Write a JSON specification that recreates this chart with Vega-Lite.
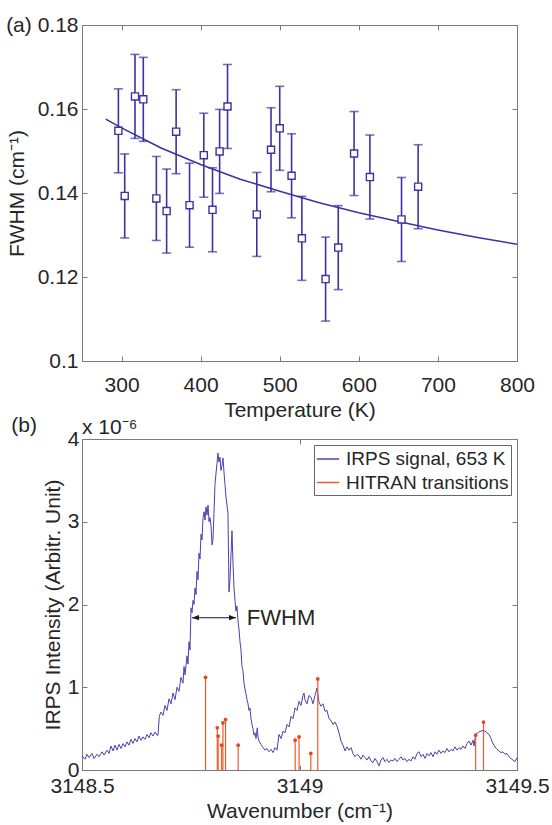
{
  "$schema": "https://vega.github.io/schema/vega-lite/v6.json",
  "background": "white",
  "padding": {"left": 5, "top": 13, "right": 5, "bottom": 5},
  "bounds": "flush",
  "spacing": 78,
  "datasets": {
    "fwhm": [
      {"T": 296, "fwhm": 0.1548, "lo": 0.1448, "hi": 0.1648},
      {"T": 304, "fwhm": 0.1393, "lo": 0.1293, "hi": 0.1493},
      {"T": 317, "fwhm": 0.1630, "lo": 0.1530, "hi": 0.1730},
      {"T": 327.5, "fwhm": 0.1623, "lo": 0.1523, "hi": 0.1723},
      {"T": 344, "fwhm": 0.1387, "lo": 0.1287, "hi": 0.1487},
      {"T": 357, "fwhm": 0.1357, "lo": 0.1257, "hi": 0.1457},
      {"T": 369, "fwhm": 0.1546, "lo": 0.1446, "hi": 0.1646},
      {"T": 386, "fwhm": 0.1371, "lo": 0.1271, "hi": 0.1471},
      {"T": 404, "fwhm": 0.1490, "lo": 0.1390, "hi": 0.1590},
      {"T": 415, "fwhm": 0.1360, "lo": 0.1260, "hi": 0.1460},
      {"T": 424, "fwhm": 0.1499, "lo": 0.1399, "hi": 0.1599},
      {"T": 434, "fwhm": 0.1606, "lo": 0.1506, "hi": 0.1706},
      {"T": 471, "fwhm": 0.1349, "lo": 0.1249, "hi": 0.1449},
      {"T": 489, "fwhm": 0.1503, "lo": 0.1403, "hi": 0.1603},
      {"T": 500, "fwhm": 0.1554, "lo": 0.1454, "hi": 0.1654},
      {"T": 515, "fwhm": 0.1441, "lo": 0.1341, "hi": 0.1541},
      {"T": 528, "fwhm": 0.1292, "lo": 0.1192, "hi": 0.1392},
      {"T": 558, "fwhm": 0.1195, "lo": 0.1095, "hi": 0.1295},
      {"T": 574, "fwhm": 0.1270, "lo": 0.1170, "hi": 0.1370},
      {"T": 594, "fwhm": 0.1494, "lo": 0.1394, "hi": 0.1594},
      {"T": 614, "fwhm": 0.1438, "lo": 0.1338, "hi": 0.1538},
      {"T": 654, "fwhm": 0.1337, "lo": 0.1237, "hi": 0.1437},
      {"T": 675, "fwhm": 0.1415, "lo": 0.1315, "hi": 0.1515}
    ],
    "fit": [
      {"T": 280, "fwhm": 0.1576},
      {"T": 300, "fwhm": 0.1555},
      {"T": 350, "fwhm": 0.1507},
      {"T": 400, "fwhm": 0.1468},
      {"T": 450, "fwhm": 0.1433},
      {"T": 500, "fwhm": 0.1404},
      {"T": 550, "fwhm": 0.1377},
      {"T": 600, "fwhm": 0.1353},
      {"T": 650, "fwhm": 0.1332},
      {"T": 700, "fwhm": 0.1312},
      {"T": 750, "fwhm": 0.1294},
      {"T": 800, "fwhm": 0.1278}
    ],
    "spectrum": [
      {"w": 3148.5000, "i": 0.17}, {"w": 3148.5069, "i": 0.13}, {"w": 3148.5115, "i": 0.19}, {"w": 3148.5161, "i": 0.15},
      {"w": 3148.5230, "i": 0.20}, {"w": 3148.5276, "i": 0.14}, {"w": 3148.5345, "i": 0.19}, {"w": 3148.5391, "i": 0.16},
      {"w": 3148.5460, "i": 0.22}, {"w": 3148.5506, "i": 0.18}, {"w": 3148.5575, "i": 0.24}, {"w": 3148.5621, "i": 0.20},
      {"w": 3148.5667, "i": 0.29}, {"w": 3148.5713, "i": 0.23}, {"w": 3148.5759, "i": 0.30}, {"w": 3148.5805, "i": 0.24},
      {"w": 3148.5851, "i": 0.31}, {"w": 3148.5897, "i": 0.26}, {"w": 3148.5943, "i": 0.32}, {"w": 3148.5989, "i": 0.28},
      {"w": 3148.6034, "i": 0.34}, {"w": 3148.6080, "i": 0.30}, {"w": 3148.6126, "i": 0.37}, {"w": 3148.6172, "i": 0.32},
      {"w": 3148.6218, "i": 0.38}, {"w": 3148.6264, "i": 0.34}, {"w": 3148.6310, "i": 0.41}, {"w": 3148.6356, "i": 0.36},
      {"w": 3148.6402, "i": 0.40}, {"w": 3148.6448, "i": 0.37}, {"w": 3148.6494, "i": 0.43}, {"w": 3148.6540, "i": 0.39},
      {"w": 3148.6586, "i": 0.45}, {"w": 3148.6632, "i": 0.41}, {"w": 3148.6678, "i": 0.46}, {"w": 3148.6724, "i": 0.42},
      {"w": 3148.6747, "i": 0.42}, {"w": 3148.6777, "i": 0.65}, {"w": 3148.6816, "i": 0.70}, {"w": 3148.6862, "i": 0.66},
      {"w": 3148.6908, "i": 0.78}, {"w": 3148.6954, "i": 0.72}, {"w": 3148.7000, "i": 0.86}, {"w": 3148.7046, "i": 0.80},
      {"w": 3148.7092, "i": 0.93}, {"w": 3148.7138, "i": 0.85}, {"w": 3148.7184, "i": 1.00}, {"w": 3148.7230, "i": 0.95},
      {"w": 3148.7276, "i": 1.12}, {"w": 3148.7322, "i": 1.05}, {"w": 3148.7345, "i": 1.25}, {"w": 3148.7368, "i": 1.15},
      {"w": 3148.7414, "i": 1.38}, {"w": 3148.7437, "i": 1.28}, {"w": 3148.7460, "i": 1.55}, {"w": 3148.7483, "i": 1.45},
      {"w": 3148.7506, "i": 1.96}, {"w": 3148.7529, "i": 1.90}, {"w": 3148.7552, "i": 2.05}, {"w": 3148.7575, "i": 2.00},
      {"w": 3148.7598, "i": 2.20}, {"w": 3148.7621, "i": 2.12}, {"w": 3148.7644, "i": 2.40}, {"w": 3148.7667, "i": 2.30},
      {"w": 3148.7690, "i": 2.62}, {"w": 3148.7713, "i": 2.55}, {"w": 3148.7736, "i": 2.85}, {"w": 3148.7759, "i": 2.78},
      {"w": 3148.7782, "i": 3.05}, {"w": 3148.7805, "i": 3.12}, {"w": 3148.7828, "i": 3.02}, {"w": 3148.7851, "i": 3.18},
      {"w": 3148.7874, "i": 3.08}, {"w": 3148.7897, "i": 3.20}, {"w": 3148.7920, "i": 3.00}, {"w": 3148.7943, "i": 3.05},
      {"w": 3148.7966, "i": 2.95}, {"w": 3148.7989, "i": 2.72}, {"w": 3148.8011, "i": 2.78}, {"w": 3148.8034, "i": 3.10},
      {"w": 3148.8057, "i": 3.45}, {"w": 3148.8080, "i": 3.58}, {"w": 3148.8103, "i": 3.70}, {"w": 3148.8126, "i": 3.83},
      {"w": 3148.8149, "i": 3.72}, {"w": 3148.8172, "i": 3.78}, {"w": 3148.8195, "i": 3.62}, {"w": 3148.8218, "i": 3.68},
      {"w": 3148.8241, "i": 3.77}, {"w": 3148.8264, "i": 3.60}, {"w": 3148.8287, "i": 3.45}, {"w": 3148.8310, "i": 3.30},
      {"w": 3148.8333, "i": 3.20}, {"w": 3148.8356, "i": 3.10}, {"w": 3148.8379, "i": 2.15}, {"w": 3148.8402, "i": 2.30},
      {"w": 3148.8425, "i": 2.60}, {"w": 3148.8448, "i": 2.89}, {"w": 3148.8471, "i": 2.50}, {"w": 3148.8494, "i": 2.20},
      {"w": 3148.8517, "i": 2.05}, {"w": 3148.8540, "i": 1.92}, {"w": 3148.8563, "i": 1.98}, {"w": 3148.8586, "i": 1.80},
      {"w": 3148.8609, "i": 1.70}, {"w": 3148.8632, "i": 1.55}, {"w": 3148.8655, "i": 1.45}, {"w": 3148.8678, "i": 1.25},
      {"w": 3148.8701, "i": 1.20}, {"w": 3148.8724, "i": 1.05}, {"w": 3148.8747, "i": 0.98}, {"w": 3148.8770, "i": 0.92},
      {"w": 3148.8793, "i": 0.85}, {"w": 3148.8816, "i": 0.80}, {"w": 3148.8839, "i": 0.72}, {"w": 3148.8862, "i": 0.75},
      {"w": 3148.8885, "i": 0.62}, {"w": 3148.8908, "i": 0.55}, {"w": 3148.8931, "i": 0.50}, {"w": 3148.8954, "i": 0.42},
      {"w": 3148.8977, "i": 0.45}, {"w": 3148.9000, "i": 0.38}, {"w": 3148.9030, "i": 0.51}, {"w": 3148.9046, "i": 0.40},
      {"w": 3148.9069, "i": 0.35}, {"w": 3148.9115, "i": 0.31}, {"w": 3148.9161, "i": 0.27}, {"w": 3148.9207, "i": 0.24},
      {"w": 3148.9253, "i": 0.26}, {"w": 3148.9299, "i": 0.22}, {"w": 3148.9345, "i": 0.25}, {"w": 3148.9391, "i": 0.21},
      {"w": 3148.9437, "i": 0.27}, {"w": 3148.9483, "i": 0.24}, {"w": 3148.9529, "i": 0.43}, {"w": 3148.9575, "i": 0.38},
      {"w": 3148.9621, "i": 0.47}, {"w": 3148.9667, "i": 0.45}, {"w": 3148.9713, "i": 0.55}, {"w": 3148.9759, "i": 0.52},
      {"w": 3148.9805, "i": 0.65}, {"w": 3148.9851, "i": 0.62}, {"w": 3148.9897, "i": 0.75}, {"w": 3148.9943, "i": 0.72},
      {"w": 3148.9989, "i": 0.83}, {"w": 3149.0034, "i": 0.78}, {"w": 3149.0080, "i": 0.90}, {"w": 3149.0103, "i": 0.93},
      {"w": 3149.0126, "i": 0.85}, {"w": 3149.0172, "i": 0.80}, {"w": 3149.0218, "i": 0.90}, {"w": 3149.0264, "i": 0.88},
      {"w": 3149.0310, "i": 0.80}, {"w": 3149.0356, "i": 0.90}, {"w": 3149.0402, "i": 0.99}, {"w": 3149.0448, "i": 0.82},
      {"w": 3149.0494, "i": 0.77}, {"w": 3149.0540, "i": 0.80}, {"w": 3149.0586, "i": 0.71}, {"w": 3149.0632, "i": 0.72},
      {"w": 3149.0678, "i": 0.62}, {"w": 3149.0724, "i": 0.60}, {"w": 3149.0770, "i": 0.55}, {"w": 3149.0816, "i": 0.58},
      {"w": 3149.0862, "i": 0.53}, {"w": 3149.0908, "i": 0.45}, {"w": 3149.0954, "i": 0.35}, {"w": 3149.1000, "i": 0.30},
      {"w": 3149.1046, "i": 0.23}, {"w": 3149.1092, "i": 0.28}, {"w": 3149.1138, "i": 0.24}, {"w": 3149.1184, "i": 0.27},
      {"w": 3149.1230, "i": 0.20}, {"w": 3149.1276, "i": 0.16}, {"w": 3149.1322, "i": 0.19}, {"w": 3149.1368, "i": 0.17},
      {"w": 3149.1414, "i": 0.13}, {"w": 3149.1460, "i": 0.18}, {"w": 3149.1506, "i": 0.15}, {"w": 3149.1552, "i": 0.12},
      {"w": 3149.1598, "i": 0.16}, {"w": 3149.1644, "i": 0.11}, {"w": 3149.1690, "i": 0.09}, {"w": 3149.1736, "i": 0.14},
      {"w": 3149.1782, "i": 0.10}, {"w": 3149.1828, "i": 0.05}, {"w": 3149.1874, "i": 0.12}, {"w": 3149.1920, "i": 0.15},
      {"w": 3149.1966, "i": 0.10}, {"w": 3149.2012, "i": 0.13}, {"w": 3149.2058, "i": 0.09}, {"w": 3149.2104, "i": 0.12},
      {"w": 3149.2149, "i": 0.11}, {"w": 3149.2195, "i": 0.14}, {"w": 3149.2241, "i": 0.10}, {"w": 3149.2287, "i": 0.13},
      {"w": 3149.2333, "i": 0.16}, {"w": 3149.2379, "i": 0.12}, {"w": 3149.2425, "i": 0.14}, {"w": 3149.2471, "i": 0.10},
      {"w": 3149.2517, "i": 0.13}, {"w": 3149.2563, "i": 0.11}, {"w": 3149.2609, "i": 0.16}, {"w": 3149.2655, "i": 0.13},
      {"w": 3149.2701, "i": 0.20}, {"w": 3149.2747, "i": 0.22}, {"w": 3149.2793, "i": 0.16}, {"w": 3149.2839, "i": 0.19},
      {"w": 3149.2885, "i": 0.14}, {"w": 3149.2931, "i": 0.20}, {"w": 3149.2977, "i": 0.17}, {"w": 3149.3023, "i": 0.21},
      {"w": 3149.3069, "i": 0.16}, {"w": 3149.3115, "i": 0.22}, {"w": 3149.3161, "i": 0.19}, {"w": 3149.3207, "i": 0.24},
      {"w": 3149.3253, "i": 0.20}, {"w": 3149.3299, "i": 0.23}, {"w": 3149.3345, "i": 0.21}, {"w": 3149.3391, "i": 0.26},
      {"w": 3149.3437, "i": 0.22}, {"w": 3149.3483, "i": 0.25}, {"w": 3149.3529, "i": 0.23}, {"w": 3149.3575, "i": 0.28},
      {"w": 3149.3621, "i": 0.24}, {"w": 3149.3667, "i": 0.27}, {"w": 3149.3713, "i": 0.25}, {"w": 3149.3759, "i": 0.29},
      {"w": 3149.3805, "i": 0.26}, {"w": 3149.3851, "i": 0.32}, {"w": 3149.3897, "i": 0.35}, {"w": 3149.3943, "i": 0.30},
      {"w": 3149.3989, "i": 0.36}, {"w": 3149.4012, "i": 0.29}, {"w": 3149.4051, "i": 0.43}, {"w": 3149.4081, "i": 0.44},
      {"w": 3149.4126, "i": 0.46}, {"w": 3149.4172, "i": 0.47}, {"w": 3149.4218, "i": 0.48}, {"w": 3149.4264, "i": 0.47},
      {"w": 3149.4310, "i": 0.45}, {"w": 3149.4356, "i": 0.43}, {"w": 3149.4402, "i": 0.38}, {"w": 3149.4448, "i": 0.32},
      {"w": 3149.4494, "i": 0.28}, {"w": 3149.4540, "i": 0.25}, {"w": 3149.4586, "i": 0.23}, {"w": 3149.4632, "i": 0.21},
      {"w": 3149.4678, "i": 0.22}, {"w": 3149.4724, "i": 0.19}, {"w": 3149.4770, "i": 0.20}, {"w": 3149.4816, "i": 0.16},
      {"w": 3149.4862, "i": 0.14}, {"w": 3149.4908, "i": 0.12}, {"w": 3149.4954, "i": 0.10}, {"w": 3149.5000, "i": 0.15}
    ],
    "hitran": [
      {"w": 3148.784, "h": 1.12},
      {"w": 3148.811, "h": 0.51},
      {"w": 3148.813, "h": 0.41},
      {"w": 3148.821, "h": 0.30},
      {"w": 3148.824, "h": 0.57},
      {"w": 3148.830, "h": 0.61},
      {"w": 3148.859, "h": 0.30},
      {"w": 3148.990, "h": 0.36},
      {"w": 3148.999, "h": 0.40},
      {"w": 3149.026, "h": 0.20},
      {"w": 3149.042, "h": 1.10},
      {"w": 3149.405, "h": 0.42},
      {"w": 3149.423, "h": 0.58}
    ],
    "one": [{}]
  },
  "vconcat": [
    {
      "width": 435,
      "height": 336,
      "title": {"text": "(a)", "anchor": "start", "frame": "bounds", "fontSize": 21, "fontWeight": "normal", "color": "#262626", "font": "Liberation Sans", "baseline": "middle", "offset": 0, "dy": 33},
      "layer": [
        {
          "data": {"name": "fit"},
          "mark": {"type": "line", "color": "#3c33a2", "strokeWidth": 1.6},
          "encoding": {
            "x": {"field": "T", "type": "quantitative", "scale": {"domain": [250, 800], "nice": false, "zero": false},
                  "axis": {"orient": "top", "labels": false, "title": null, "values": [300, 400, 500, 600, 700, 800]}},
            "y": {"field": "fwhm", "type": "quantitative", "scale": {"domain": [0.1, 0.18], "nice": false, "zero": false},
                  "axis": {"orient": "right", "labels": false, "title": null, "values": [0.1, 0.12, 0.14, 0.16, 0.18]}}
          }
        },
        {
          "data": {"name": "fwhm"},
          "mark": {"type": "rule", "color": "#3c33a2", "strokeWidth": 1.6},
          "encoding": {
            "x": {"field": "T", "type": "quantitative", "axis": null},
            "y": {"field": "lo", "type": "quantitative", "axis": null},
            "y2": {"field": "hi"}
          }
        },
        {
          "data": {"name": "fwhm"},
          "mark": {"type": "tick", "orient": "horizontal", "color": "#3c33a2", "size": 9, "thickness": 1.6},
          "encoding": {
            "x": {"field": "T", "type": "quantitative", "axis": null},
            "y": {"field": "lo", "type": "quantitative", "axis": null}
          }
        },
        {
          "data": {"name": "fwhm"},
          "mark": {"type": "tick", "orient": "horizontal", "color": "#3c33a2", "size": 9, "thickness": 1.6},
          "encoding": {
            "x": {"field": "T", "type": "quantitative", "axis": null},
            "y": {"field": "hi", "type": "quantitative", "axis": null}
          }
        },
        {
          "data": {"name": "fwhm"},
          "mark": {"type": "point", "shape": "square", "filled": true, "fill": "white", "stroke": "#3c33a2", "strokeWidth": 1.4, "size": 50, "opacity": 1},
          "encoding": {
            "x": {"field": "T", "type": "quantitative",
                  "axis": {"orient": "bottom", "title": "Temperature (K)", "values": [300, 400, 500, 600, 700, 800], "format": "d", "labelPadding": 18, "titlePadding": 4}},
            "y": {"field": "fwhm", "type": "quantitative",
                  "axis": {"orient": "left", "title": "FWHM (cm⁻¹)", "values": [0.1, 0.12, 0.14, 0.16, 0.18], "format": "~g", "labelPadding": 9, "titlePadding": 10}}
          }
        }
      ]
    },
    {
      "width": 435,
      "height": 331,
      "title": {"text": "(b)", "anchor": "start", "frame": "bounds", "fontSize": 21, "fontWeight": "normal", "color": "#262626", "font": "Liberation Sans", "baseline": "middle", "offset": 0, "dy": 30, "dx": -31},
      "layer": [
        {
          "data": {"name": "spectrum"},
          "mark": {"type": "line", "strokeWidth": 1, "interpolate": "linear"},
          "encoding": {
            "x": {"field": "w", "type": "quantitative", "scale": {"domain": [3148.5, 3149.5], "nice": false, "zero": false},
                  "axis": {"orient": "bottom", "title": "Wavenumber (cm⁻¹)", "values": [3148.5, 3149, 3149.5], "format": "~g", "labelPadding": 10, "titlePadding": 4}},
            "y": {"field": "i", "type": "quantitative", "scale": {"domain": [0, 4], "nice": false},
                  "axis": {"orient": "left", "title": "IRPS Intensity (Arbitr. Unit)", "values": [0, 1, 2, 3, 4], "format": "d", "labelPadding": 8, "titlePadding": 4}},
            "color": {"datum": "IRPS signal, 653 K", "type": "nominal",
                      "scale": {"domain": ["IRPS signal, 653 K", "HITRAN transitions"], "range": ["#4b40ae", "#f05a28"]},
                      "legend": {"title": null, "orient": "top-right", "offset": 6, "symbolType": "stroke", "symbolSize": 500, "symbolStrokeWidth": 1.5,
                                 "labelFontSize": 19, "labelFont": "Liberation Sans", "labelColor": "#262626", "strokeColor": "#666", "fillColor": "white",
                                 "padding": 2, "rowPadding": 1.5, "labelOffset": 6, "labelLimit": 400, "labelExpr": "datum.label + '\u00a0\u00a0\u00a0'"}}
          }
        },
        {
          "data": {"name": "hitran"},
          "mark": {"type": "rule", "strokeWidth": 1.2},
          "encoding": {
            "x": {"field": "w", "type": "quantitative",
                  "axis": {"orient": "top", "labels": false, "title": null, "values": [3148.5, 3149, 3149.5]}},
            "y": {"field": "h", "type": "quantitative",
                  "axis": {"orient": "right", "labels": false, "title": null, "values": [0, 1, 2, 3, 4]}},
            "y2": {"datum": 0},
            "color": {"datum": "HITRAN transitions", "type": "nominal"}
          }
        },
        {
          "data": {"name": "hitran"},
          "mark": {"type": "point", "filled": true, "size": 14, "color": "#e8441c", "opacity": 1},
          "encoding": {
            "x": {"field": "w", "type": "quantitative", "axis": null},
            "y": {"field": "h", "type": "quantitative", "axis": null}
          }
        },
        {
          "data": {"name": "one"},
          "mark": {"type": "rule", "color": "#1a1a1a", "strokeWidth": 1},
          "encoding": {
            "x": {"datum": 3148.7529, "type": "quantitative", "axis": null},
            "x2": {"datum": 3148.854},
            "y": {"datum": 1.84, "type": "quantitative", "axis": null}
          }
        },
        {
          "data": {"name": "one"},
          "mark": {"type": "point", "shape": "M0,0L2,-0.75L2,0.75Z", "filled": true, "color": "#1a1a1a", "size": 49, "opacity": 1},
          "encoding": {
            "x": {"datum": 3148.7529, "type": "quantitative", "axis": null},
            "y": {"datum": 1.84, "type": "quantitative", "axis": null}
          }
        },
        {
          "data": {"name": "one"},
          "mark": {"type": "point", "shape": "M0,0L-2,-0.75L-2,0.75Z", "filled": true, "color": "#1a1a1a", "size": 49, "opacity": 1},
          "encoding": {
            "x": {"datum": 3148.854, "type": "quantitative", "axis": null},
            "y": {"datum": 1.84, "type": "quantitative", "axis": null}
          }
        },
        {
          "data": {"name": "one"},
          "mark": {"type": "text", "text": "FWHM", "align": "left", "baseline": "middle", "fontSize": 22, "color": "#262626", "font": "Liberation Sans"},
          "encoding": {
            "x": {"datum": 3148.879, "type": "quantitative", "axis": null},
            "y": {"datum": 1.84, "type": "quantitative", "axis": null}
          }
        },
        {
          "data": {"name": "one"},
          "mark": {"type": "text", "text": "x 10⁻⁶", "align": "left", "baseline": "alphabetic", "dy": -5, "fontSize": 21, "color": "#262626", "font": "Liberation Sans"},
          "encoding": {
            "x": {"datum": 3148.5, "type": "quantitative", "axis": null},
            "y": {"datum": 4, "type": "quantitative", "axis": null}
          }
        }
      ]
    }
  ],
  "resolve": {"scale": {"color": "independent", "x": "independent", "y": "independent"}, "legend": {"color": "independent"}},
  "config": {
    "font": "Liberation Sans",
    "view": {"stroke": "#7a7a7a", "strokeWidth": 1},
    "axis": {"grid": false, "domain": false, "tickColor": "#7a7a7a", "tickSize": -5, "tickWidth": 1,
             "labelFontSize": 21, "titleFontSize": 21, "labelColor": "#262626", "titleColor": "#262626",
             "titleFontWeight": "normal", "labelFlush": false, "labelOverlap": false,
             "labelFont": "Liberation Sans", "titleFont": "Liberation Sans"}
  }
}
